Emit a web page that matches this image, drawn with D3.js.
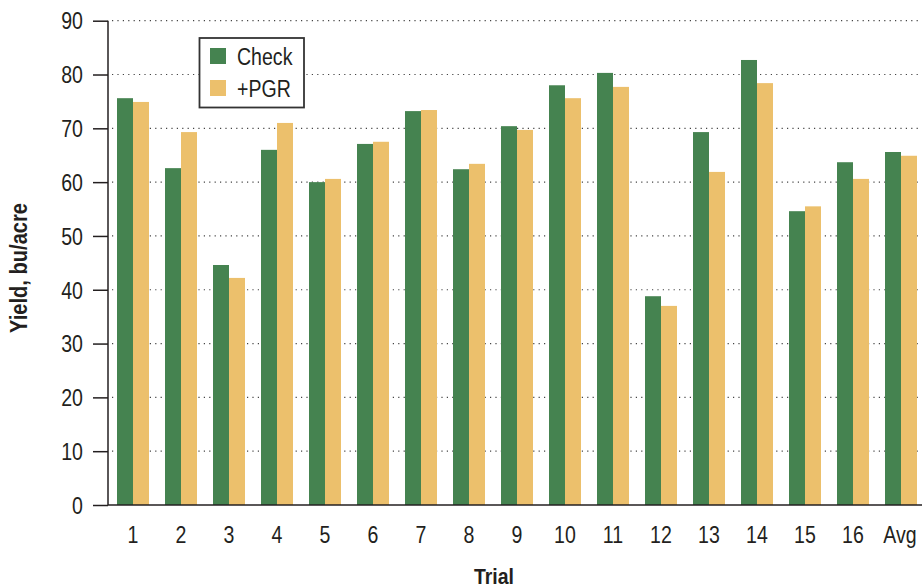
<!DOCTYPE html>
<html><head><meta charset="utf-8">
<script src="https://cdn.jsdelivr.net/npm/d3@7"></script>
<style>
html,body{margin:0;padding:0;background:#fff;}
text{font-family:"Liberation Sans",Arial,sans-serif;fill:#231f20;}
</style></head>
<body>
<svg id="chart" width="922" height="588"></svg>
<script>
const categories = ["1","2","3","4","5","6","7","8","9","10","11","12","13","14","15","16","Avg"];
const seriesNames = ["Check","+PGR"];
const checkValues = [75.6,62.6,44.6,66.0,60.0,67.1,73.2,62.4,70.4,78.0,80.3,38.8,69.3,82.7,54.6,63.7,65.6];
const pgrValues   = [74.9,69.3,42.2,71.0,60.6,67.5,73.4,63.4,69.7,75.6,77.7,37.0,61.9,78.4,55.5,60.6,64.9];
const yTicks = [0,10,20,30,40,50,60,70,80,90];
const colors = ["#458350","#ecc06c"];

const svg = d3.select("#chart");
const x0 = 108, yBase = 505, yTop = 20.7;
const x = d3.scaleBand().domain(categories).range([109, 925]).paddingInner(1/3).paddingOuter(1/6);
const xs = d3.scaleBand().domain(seriesNames).range([0, x.bandwidth()]);
const y = d3.scaleLinear().domain([0,90]).range([yBase, yTop]);

function condense(sel, f){
  sel.each(function(){
    const L = this.getComputedTextLength();
    d3.select(this).attr("textLength", L*f).attr("lengthAdjust","spacingAndGlyphs");
  });
}

// gridlines
svg.append("g").selectAll("line").data(yTicks.filter(d=>d>0)).join("line")
  .attr("x1", 112).attr("x2", 922)
  .attr("y1", d=>y(d)).attr("y2", d=>y(d))
  .attr("stroke","#444").attr("stroke-width",1.2).attr("stroke-dasharray","1.2,4.2");

// bars
const data = categories.map((c,i)=>({c, vals:[checkValues[i], pgrValues[i]]}));
const g = svg.append("g").selectAll("g").data(data).join("g")
  .attr("transform", d=>`translate(${x(d.c)},0)`);
g.selectAll("rect").data(d=>d.vals.map((v,j)=>({v, s:seriesNames[j], j}))).join("rect")
  .attr("x", d=>xs(d.s)).attr("width", xs.bandwidth())
  .attr("y", d=>y(d.v)).attr("height", d=>yBase - y(d.v))
  .attr("fill", d=>colors[d.j]);

// y axis
const yAxis = svg.append("g").attr("transform",`translate(${x0},0)`)
  .call(d3.axisLeft(y).tickValues(yTicks).tickSize(15).tickPadding(10));
yAxis.select(".domain").attr("stroke","#231f20").attr("stroke-width",1.5).attr("d",`M0,${yTop}V${yBase}`);
yAxis.selectAll(".tick line").attr("stroke","#231f20").attr("stroke-width",1.5);
yAxis.selectAll(".tick text").attr("font-size",23).attr("fill","#231f20").attr("dy","0.36em")
  .style("font-family",'"Liberation Sans",Arial,sans-serif').call(condense,0.85);

// x axis
const xAxis = svg.append("g").attr("transform",`translate(0,${yBase})`)
  .call(d3.axisBottom(x).tickSize(0).tickPadding(22));
xAxis.select(".domain").attr("stroke","#231f20").attr("stroke-width",1.5).attr("d",`M${x0},0H922`);
xAxis.selectAll(".tick text").attr("font-size",23).attr("fill","#231f20")
  .style("font-family",'"Liberation Sans",Arial,sans-serif').call(condense,0.85);
xAxis.selectAll(".tick").filter(d=>d==="Avg").select("text").attr("dx",-1);

// axis titles
svg.append("text").attr("x",494).attr("y",584).attr("text-anchor","middle")
  .attr("font-size",22).attr("font-weight","bold").attr("textLength",40).attr("lengthAdjust","spacingAndGlyphs").text("Trial");
svg.append("text").attr("transform","translate(27,268) rotate(-90)").attr("text-anchor","middle")
  .attr("font-size",23).attr("font-weight","bold").attr("textLength",130).attr("lengthAdjust","spacingAndGlyphs").text("Yield, bu/acre");

// legend
const lg = svg.append("g");
lg.append("rect").attr("x",199.5).attr("y",38).attr("width",104.5).attr("height",69.5)
  .attr("fill","#fff").attr("stroke","#333").attr("stroke-width",1.8);
seriesNames.forEach((s,i)=>{
  lg.append("rect").attr("x",210).attr("y",48+i*32).attr("width",16).attr("height",16).attr("fill",colors[i]);
  lg.append("text").attr("x",237).attr("y",65+i*32).attr("font-size",23).text(s).call(condense,0.85);
});
</script>
</body></html>
